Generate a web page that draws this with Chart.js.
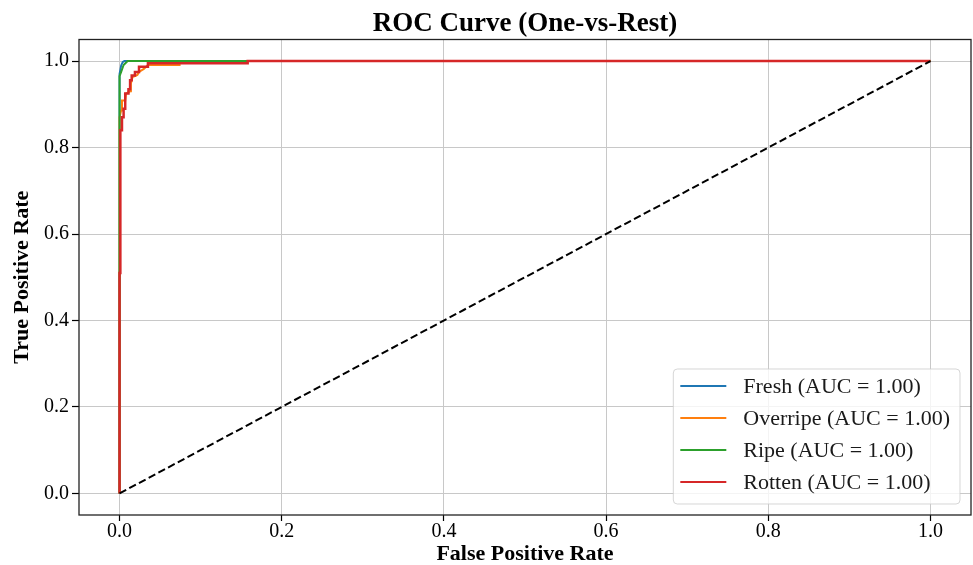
<!DOCTYPE html>
<html>
<head>
<meta charset="utf-8">
<title>ROC Curve (One-vs-Rest)</title>
<script src="https://cdn.jsdelivr.net/npm/chart.js@4.4.1/dist/chart.umd.min.js"></script>
<style>
  html, body { margin: 0; padding: 0; background: #fff; }
  canvas { display: block; }
</style>
</head>
<body>
<canvas id="rocChart" width="973" height="565"></canvas>
<script>
// ROC points (false positive rate / true positive rate)
const freshFpr = [0, 0, 0.002, 0.004, 0.006, 1];
const freshTpr = [0, 0.97, 0.99, 0.998, 1, 1];

const overripeFpr = [0, 0, 0.002, 0.003, 0.007, 0.008, 0.013, 0.014, 0.016, 0.022, 0.024, 0.030, 0.035, 0.074, 0.074, 0.120, 0.120, 1];
const overripeTpr = [0, 0.87, 0.886, 0.909, 0.909, 0.925, 0.930, 0.948, 0.963, 0.968, 0.975, 0.982, 0.991, 0.991, 0.996, 0.996, 1, 1];

const ripeFpr = [0, 0, 0.002, 0.005, 0.010, 1];
const ripeTpr = [0, 0.965, 0.975, 0.991, 1, 1];

const rottenFpr = [0, 0, 0.001, 0.001, 0.003, 0.003, 0.005, 0.005, 0.007, 0.007, 0.011, 0.011, 0.013, 0.013, 0.015, 0.015, 0.019, 0.019, 0.024, 0.024, 0.035, 0.035, 0.158, 0.158, 1];
const rottenTpr = [0, 0.51, 0.51, 0.84, 0.84, 0.87, 0.87, 0.89, 0.89, 0.925, 0.925, 0.935, 0.935, 0.956, 0.956, 0.967, 0.967, 0.975, 0.975, 0.987, 0.987, 0.995, 0.995, 1, 1];

const chanceFpr = [0, 1];
const chanceTpr = [0, 1];

const seriesNames = ['Fresh', 'Overripe', 'Ripe', 'Rotten'];
const seriesAuc = [1.00, 1.00, 1.00, 1.00];
const seriesColors = ['#1f77b4', '#ff7f0e', '#2ca02c', '#d62728'];
const seriesWidths = [2, 2, 2, 2.5];

const xTicks = [0, 0.2, 0.4, 0.6, 0.8, 1.0];
const yTicks = [0, 0.2, 0.4, 0.6, 0.8, 1.0];

const FONT = '"Liberation Serif", "Times New Roman", serif';

function toPoints(xs, ys) {
    return xs.map((x, i) => ({ x: x, y: ys[i] }));
}

const curves = [
    [freshFpr, freshTpr],
    [overripeFpr, overripeTpr],
    [ripeFpr, ripeTpr],
    [rottenFpr, rottenTpr]
];

// last curve ends up on top (lower order is drawn later)
const datasets = curves.map((c, i) => ({
    label: seriesNames[i] + ' (AUC = ' + seriesAuc[i].toFixed(2) + ')',
    data: toPoints(c[0], c[1]),
    borderColor: seriesColors[i],
    backgroundColor: seriesColors[i],
    borderWidth: seriesWidths[i],
    order: 4 - i
}));

datasets.push({
    label: 'chance',
    data: toPoints(chanceFpr, chanceTpr),
    borderColor: '#000',
    borderWidth: 2,
    borderDash: [7.5, 3.5],
    order: 0
});

// black box round the plot area, like matplotlib spines
const framePlugin = {
    id: 'frame',
    afterDatasetsDraw(chart) {
        const a = chart.chartArea;
        const ctx = chart.ctx;
        ctx.save();
        ctx.strokeStyle = '#222';
        ctx.lineWidth = 1.3;
        ctx.strokeRect(a.left, a.top, a.right - a.left, a.bottom - a.top);
        ctx.restore();
    }
};

// legend drawn inside the lower right corner
const boxLegend = {
    id: 'boxLegend',
    afterDraw(chart) {
        const a = chart.chartArea;
        const ctx = chart.ctx;
        const items = chart.data.datasets.slice(0, 4);
        ctx.save();
        ctx.font = '22px ' + FONT;
        let maxW = 0;
        items.forEach(d => { maxW = Math.max(maxW, ctx.measureText(d.label).width); });
        const w = 7 + 46 + 17 + maxW + 10;
        const h = 135;
        const right = a.right - 11;
        const bottom = a.bottom - 11;
        const left = right - w;
        const top = bottom - h;

        ctx.beginPath();
        ctx.roundRect(left, top, w, h, 4);
        ctx.fillStyle = 'rgba(255,255,255,0.8)';
        ctx.fill();
        ctx.strokeStyle = 'rgba(204,204,204,0.8)';
        ctx.lineWidth = 1;
        ctx.stroke();

        items.forEach((d, i) => {
            const y = top + 17 + i * 32;
            ctx.beginPath();
            ctx.moveTo(left + 7, y);
            ctx.lineTo(left + 53, y);
            ctx.strokeStyle = d.borderColor;
            ctx.lineWidth = 2;
            ctx.stroke();
            ctx.fillStyle = '#1a1a1a';
            ctx.textAlign = 'left';
            ctx.textBaseline = 'middle';
            ctx.fillText(d.label, left + 70, y + 1);
        });
        ctx.restore();
    }
};

const tickFont = { family: FONT, size: 20, lineHeight: 1 };
const titleFont = { family: FONT, size: 22, weight: 'bold', lineHeight: 1 };

const rocCtx = document.getElementById('rocChart').getContext('2d');
const rocChart = new Chart(rocCtx, {
    type: 'scatter',
    data: { datasets: datasets },
    options: {
        responsive: false,
        devicePixelRatio: 1,
        animation: false,
        showLine: true,
        elements: {
            point: { radius: 0, hoverRadius: 0 },
            line: { tension: 0, fill: false }
        },
        layout: { padding: { left: 0, right: 2, top: 0, bottom: 0 } },
        scales: {
            x: {
                type: 'linear',
                min: -0.05,
                max: 1.05,
                afterBuildTicks: function(scale) {
                    scale.ticks = xTicks.map(v => ({ value: v }));
                },
                ticks: {
                    font: tickFont,
                    color: '#000',
                    padding: 1,
                    maxRotation: 0,
                    autoSkip: false,
                    callback: function(value) { return value.toFixed(1); }
                },
                grid: { color: '#c8c8c8', lineWidth: 1, tickColor: '#000', tickLength: 6, tickWidth: 1.2 },
                border: { display: false },
                title: {
                    display: true,
                    text: 'False Positive Rate',
                    font: titleFont,
                    color: '#000',
                    padding: { top: 0, bottom: 0 }
                }
            },
            y: {
                type: 'linear',
                min: -0.05,
                max: 1.05,
                afterBuildTicks: function(scale) {
                    scale.ticks = yTicks.map(v => ({ value: v }));
                },
                ticks: {
                    font: tickFont,
                    color: '#000',
                    padding: 3,
                    autoSkip: false,
                    callback: function(value) { return value.toFixed(1); }
                },
                grid: { color: '#c8c8c8', lineWidth: 1, tickColor: '#000', tickLength: 7, tickWidth: 1.2 },
                border: { display: false },
                title: {
                    display: true,
                    text: 'True Positive Rate',
                    font: titleFont,
                    color: '#000',
                    padding: { top: 11, bottom: 8 }
                }
            }
        },
        plugins: {
            legend: { display: false },
            tooltip: { enabled: false },
            title: {
                display: true,
                fullSize: false,
                text: 'ROC Curve (One-vs-Rest)',
                font: { family: FONT, size: 27, weight: 'bold', lineHeight: 1 },
                color: '#000',
                padding: { top: 10.5, bottom: 2 }
            }
        }
    },
    plugins: [framePlugin, boxLegend]
});
</script>
</body>
</html>
